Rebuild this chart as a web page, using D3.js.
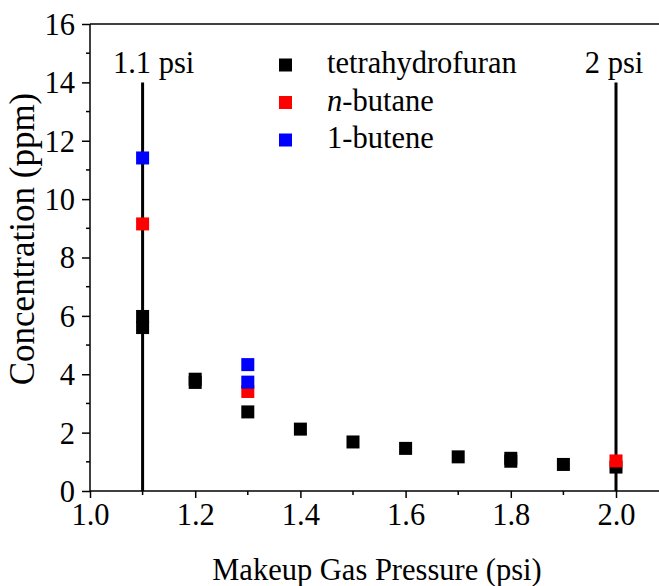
<!DOCTYPE html>
<html>
<head>
<meta charset="utf-8">
<script src="https://cdn.jsdelivr.net/npm/d3@7"></script>
<style>
  html, body { margin: 0; padding: 0; background: #fff; }
  svg { display: block; }
</style>
</head>
<body>
<svg id="chart" width="659" height="586"></svg>
<script>
// ---- data ----
const thfX = [1.1, 1.1, 1.2, 1.2, 1.3, 1.4, 1.5, 1.6, 1.7, 1.8, 1.8, 1.9, 2.0];
const thfY = [5.98, 5.60, 3.83, 3.72, 2.71, 2.12, 1.68, 1.46, 1.17, 1.12, 1.02, 0.91, 0.82];
const butaneX = [1.1, 1.3, 2.0];
const butaneY = [9.15, 3.41, 1.03];
const buteneX = [1.1, 1.3, 1.3];
const buteneY = [11.41, 4.33, 3.73];
const seriesNames = ["tetrahydrofuran", "n-butane", "1-butene"];
const seriesColors = ["#000000", "#ff0000", "#0000ff"];
const refLinesX = [1.1, 2.0];
const refLabels = ["1.1 psi", "2 psi"];
const refTop = 14;
const xTicks = [1.0, 1.2, 1.4, 1.6, 1.8, 2.0];
const yTicks = [0, 2, 4, 6, 8, 10, 12, 14, 16];

(function () {
const FONT = "'Liberation Serif', 'Times New Roman', Times, serif";
const svg = d3.select("#chart");
const mLeft = 90, mTop = 24, mBottom = 491;
const x = d3.scaleLinear().domain([1.0, 2.1]).range([mLeft, mLeft + 526 * 1.1]);
const y = d3.scaleLinear().domain([0, 16]).range([mBottom, mTop]);
const FS = 30.5;

const yMinor = d3.range(1, 16, 2);
const xMinor = [1.1, 1.3, 1.5, 1.7, 1.9];

svg.append("line").attr("x1", mLeft).attr("x2", 659).attr("y1", mTop).attr("y2", mTop)
  .attr("stroke", "#000").attr("stroke-width", 1.5);

const yAxis = svg.append("g").attr("transform", `translate(${mLeft},0)`)
  .call(d3.axisLeft(y).tickValues(yTicks).tickSize(8).tickPadding(7).tickFormat(d3.format("d")));
yAxis.attr("font-family", null).attr("font-size", null);
yAxis.select(".domain").attr("stroke-width", 1.5).attr("d", `M0,${mTop}V${mBottom}`);
yAxis.selectAll(".tick line").attr("stroke-width", 1.5);
yAxis.selectAll(".tick text").style("font-size", FS + "px").style("font-family", FONT).attr("dy", "0.34em");
svg.append("g").selectAll("line").data(yMinor).join("line")
  .attr("x1", mLeft - 4).attr("x2", mLeft).attr("y1", d => y(d)).attr("y2", d => y(d))
  .attr("stroke", "#000").attr("stroke-width", 1.5);

const xAxis = svg.append("g").attr("transform", `translate(0,${mBottom})`)
  .call(d3.axisBottom(x).tickValues(xTicks).tickSize(7).tickPadding(5).tickFormat(d3.format(".1f")));
xAxis.attr("font-family", null).attr("font-size", null);
xAxis.select(".domain").attr("stroke-width", 1.5).attr("d", `M${mLeft},0H659`);
xAxis.selectAll(".tick line").attr("stroke-width", 1.5);
xAxis.selectAll(".tick text").style("font-size", FS + "px").style("font-family", FONT).attr("dy", "0.72em");
svg.append("g").selectAll("line").data(xMinor).join("line")
  .attr("x1", d => x(d)).attr("x2", d => x(d)).attr("y1", mBottom).attr("y2", mBottom + 4)
  .attr("stroke", "#000").attr("stroke-width", 1.5);

svg.append("text").attr("x", 377).attr("y", 580)
  .attr("text-anchor", "middle").style("font-size", FS + "px").style("font-family", FONT)
  .text("Makeup Gas Pressure (psi)");
svg.append("text").attr("transform", `translate(34,239) rotate(-90)`)
  .attr("text-anchor", "middle").style("font-size", "35px").style("font-family", FONT)
  .text("Concentration (ppm)");

svg.append("g").selectAll("line").data(refLinesX).join("line")
  .attr("x1", d => x(d)).attr("x2", d => x(d)).attr("y1", y(refTop)).attr("y2", y(0))
  .attr("stroke", "#000").attr("stroke-width", 3);
svg.append("g").selectAll("text").data(refLinesX).join("text")
  .attr("x", (d, i) => x(d) + (i === 0 ? 11 : -2)).attr("y", 73)
  .attr("text-anchor", "middle").style("font-size", FS + "px").style("font-family", FONT)
  .text((d, i) => refLabels[i]);

const S = 13;
const series = [
  { xs: thfX, ys: thfY },
  { xs: butaneX, ys: butaneY },
  { xs: buteneX, ys: buteneY }
];
series.forEach((s, si) => {
  svg.append("g").selectAll("rect").data(s.xs.map((xv, i) => [xv, s.ys[i]])).join("rect")
    .attr("x", d => x(d[0]) - S / 2).attr("y", d => y(d[1]) - S / 2)
    .attr("width", S).attr("height", S).attr("fill", seriesColors[si]);
});

const lg = svg.append("g");
seriesNames.forEach((name, i) => {
  const cy = 65 + i * 37.5;
  lg.append("rect").attr("x", 279).attr("y", cy - S / 2).attr("width", S).attr("height", S)
    .attr("fill", seriesColors[i]);
  const t = lg.append("text").attr("x", 327).attr("y", cy + 8)
    .style("font-size", FS + "px").style("font-family", FONT);
  if (name.startsWith("n-")) {
    t.append("tspan").style("font-style", "italic").text("n");
    t.append("tspan").text(name.slice(1));
  } else {
    t.text(name);
  }
});
})();
</script>
</body>
</html>
